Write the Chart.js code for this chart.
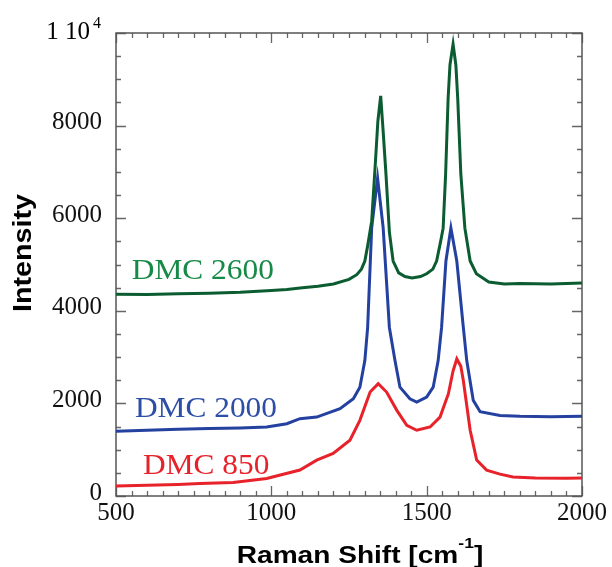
<!DOCTYPE html>
<html>
<head>
<meta charset="utf-8">
<script src="https://cdn.jsdelivr.net/npm/chart.js@4.4.1/dist/chart.umd.min.js"></script>
<style>
  body { margin: 0; background: #fff; }
  canvas { display: block; }
</style>
</head>
<body>
<canvas id="ramanChart" width="612" height="567"></canvas>
<script>
// Raman spectra (shift in cm^-1, intensity in counts)
const shift2600 = [500, 600, 700, 800, 900, 1000, 1050, 1100, 1150, 1200, 1250, 1275, 1290, 1301, 1311, 1323, 1334, 1343, 1352, 1360, 1369, 1380, 1392, 1410, 1430, 1453, 1480, 1500, 1520, 1532, 1545, 1553, 1561, 1569, 1575, 1585, 1594, 1600, 1610, 1623, 1640, 1660, 1700, 1750, 1800, 1900, 2000];
const int2600   = [4360, 4350, 4370, 4380, 4400, 4440, 4460, 4500, 4530, 4580, 4680, 4780, 4900, 5075, 5440, 5935, 7100, 8100, 8640, 7870, 6950, 5700, 5075, 4820, 4740, 4710, 4740, 4800, 4900, 5075, 5500, 5785, 6950, 8580, 9310, 9760, 9310, 8580, 6950, 5785, 5075, 4800, 4620, 4580, 4590, 4580, 4600];

const shift2000 = [500, 600, 700, 800, 900, 985, 1050, 1092, 1146, 1221, 1264, 1285, 1301, 1310, 1323, 1342, 1360, 1380, 1398, 1414, 1446, 1468, 1500, 1521, 1537, 1548, 1562, 1578, 1597, 1618, 1629, 1650, 1672, 1736, 1800, 1900, 2000];
const int2000   = [1400, 1420, 1440, 1460, 1470, 1490, 1560, 1670, 1705, 1885, 2100, 2350, 2925, 3640, 5790, 6865, 5790, 3640, 2925, 2350, 2100, 2030, 2135, 2350, 2925, 3640, 5075, 5790, 5075, 3640, 2925, 2065, 1820, 1740, 1720, 1710, 1720];

const shift850 = [500, 600, 700, 770, 877, 985, 1092, 1146, 1199, 1253, 1285, 1318, 1344, 1371, 1404, 1436, 1468, 1511, 1543, 1570, 1585, 1597, 1610, 1618, 1640, 1661, 1693, 1736, 1778, 1850, 1950, 2000];
const int850   = [215, 230, 250, 272, 290, 380, 560, 775, 920, 1205, 1635, 2245, 2425, 2245, 1850, 1525, 1420, 1490, 1705, 2210, 2700, 2960, 2800, 2495, 1420, 775, 560, 473, 410, 390, 385, 390];

const seriesNames = ['DMC 2600', 'DMC 2000', 'DMC 850'];
const xTickLabels = [500, 1000, 1500, 2000];
const yTickLabels = [0, 2000, 4000, 6000, 8000, 10000];

const lineColors  = ['#0b5c30', '#2441a0', '#e8222a'];
const labelColors = ['#178a48', '#2d4ea6', '#e8222a'];
// where each sample name sits (data coords of the text's left baseline)
const labelAnchors = [[551, 4695], [561, 1705], [587, 467]];

function toPoints(xs, ys) {
    return xs.map((x, i) => ({ x: x, y: ys[i] }));
}

const serif = '"Liberation Serif", "Times New Roman", serif';
const sans = '"Liberation Sans", Arial, sans-serif';

// the axis titles in the figure use a horizontally stretched Arial
function stretchedText(ctx, parts, cx, base, stretch) {
    let total = 0;
    parts.forEach(p => { ctx.font = p.font; total += ctx.measureText(p.text).width; });
    ctx.save();
    ctx.translate(cx, base);
    ctx.scale(stretch, 1);
    let sx = -total / 2;
    ctx.textAlign = 'left';
    ctx.textBaseline = 'alphabetic';
    parts.forEach(p => {
        ctx.font = p.font;
        ctx.fillText(p.text, sx, p.rise || 0);
        sx += ctx.measureText(p.text).width;
    });
    ctx.restore();
}

// frame, inward ticks (top/bottom/left/right), the 1 10^4 label, axis titles, sample names
const decorations = {
    id: 'decorations',
    beforeDatasetsDraw(chart) {
        const { ctx, chartArea: a, scales: { x, y } } = chart;
        ctx.save();
        ctx.strokeStyle = '#666';
        ctx.lineWidth = 1.3;
        ctx.beginPath();
        for (let v = 500; v <= 2000; v += 50) {
            const px = Math.round(x.getPixelForValue(v)) + 0.5;
            const len = v % 500 === 0 ? 10 : 5;
            ctx.moveTo(px, a.bottom); ctx.lineTo(px, a.bottom - len);
            ctx.moveTo(px, a.top); ctx.lineTo(px, a.top + len);
        }
        for (let v = 0; v <= 10000; v += 500) {
            const py = Math.round(y.getPixelForValue(v)) + 0.5;
            const len = v % 2000 === 0 ? 10 : 5;
            ctx.moveTo(a.left, py); ctx.lineTo(a.left + len, py);
            ctx.moveTo(a.right, py); ctx.lineTo(a.right - len, py);
        }
        ctx.stroke();
        ctx.lineWidth = 1.5;
        ctx.strokeStyle = '#555';
        ctx.strokeRect(a.left, a.top, a.right - a.left, a.bottom - a.top);
        ctx.restore();
    },
    afterDraw(chart) {
        const { ctx, scales: { x, y } } = chart;
        ctx.save();
        ctx.fillStyle = '#000';

        // top y label: 1 10^4
        const topY = y.getPixelForValue(10000);
        ctx.font = '25px ' + serif;
        ctx.textAlign = 'right';
        ctx.textBaseline = 'alphabetic';
        ctx.fillText('1 10', 90, topY + 6);
        ctx.font = '16px ' + serif;
        ctx.fillText('4', 101, topY - 5);

        // y title
        ctx.save();
        ctx.translate(31, 253);
        ctx.rotate(-Math.PI / 2);
        stretchedText(ctx, [{ text: 'Intensity', font: 'bold 25px ' + sans }], 0, 0, 1.15);
        ctx.restore();

        // x title with superscript
        stretchedText(ctx, [
            { text: 'Raman Shift [cm', font: 'bold 24px ' + sans },
            { text: '-1', font: 'bold 15px ' + sans, rise: -15 },
            { text: ']', font: 'bold 24px ' + sans }
        ], 360, 563, 1.17);

        // sample names
        ctx.textAlign = 'left';
        seriesNames.forEach((name, i) => {
            ctx.save();
            ctx.translate(x.getPixelForValue(labelAnchors[i][0]), y.getPixelForValue(labelAnchors[i][1]));
            ctx.scale(1.045, 1);
            ctx.font = '30px ' + serif;
            ctx.fillStyle = labelColors[i];
            ctx.fillText(name, 0, 0);
            ctx.restore();
        });
        ctx.restore();
    }
};

const ctx = document.getElementById('ramanChart').getContext('2d');
const ramanChart = new Chart(ctx, {
    type: 'line',
    data: {
        datasets: [
            { label: seriesNames[0], data: toPoints(shift2600, int2600), borderColor: lineColors[0] },
            { label: seriesNames[1], data: toPoints(shift2000, int2000), borderColor: lineColors[1] },
            { label: seriesNames[2], data: toPoints(shift850, int850), borderColor: lineColors[2] }
        ]
    },
    options: {
        responsive: false,
        animation: false,
        layout: { padding: { left: 0, top: 33, right: 30, bottom: 0 } },
        elements: {
            line: { borderWidth: 3, tension: 0 },
            point: { radius: 0 }
        },
        plugins: { legend: { display: false }, tooltip: { enabled: false } },
        scales: {
            x: {
                type: 'linear',
                min: 500, max: 2000,
                afterBuildTicks: (s) => { s.ticks = xTickLabels.map(v => ({ value: v })); },
                afterFit: (s) => { s.height = 71; },
                grid: { display: false, drawTicks: false },
                border: { display: false },
                ticks: {
                    font: { family: serif, size: 25 }, color: '#111', padding: 2, maxRotation: 0,
                    callback: (v) => String(v)
                }
            },
            y: {
                min: 0, max: 10000,
                afterBuildTicks: (s) => { s.ticks = yTickLabels.map(v => ({ value: v })); },
                afterFit: (s) => { s.width = 116; },
                grid: { display: false, drawTicks: false },
                border: { display: false },
                ticks: {
                    font: { family: serif, size: 25 }, color: '#111', padding: 14, labelOffset: -3,
                    callback: (v) => (v === 10000 ? '' : String(v))
                }
            }
        }
    },
    plugins: [decorations]
});
</script>
</body>
</html>
